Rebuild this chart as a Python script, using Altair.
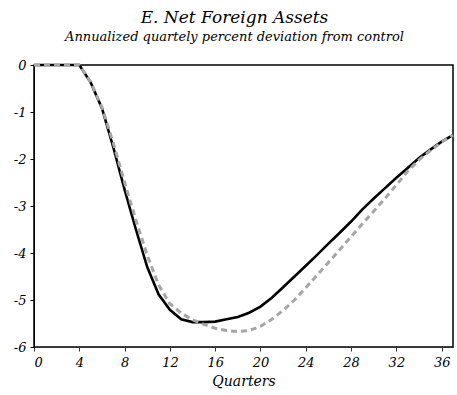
import altair as alt
import pandas as pd

# Quarters after the shock
quarters = list(range(0, 38))

# Percent deviation from control, solid black series
series_solid = [0, 0, 0, 0, 0, -0.37, -0.92, -1.75, -2.65, -3.5, -4.3, -4.88, -5.21, -5.41,
                -5.47, -5.47, -5.46, -5.41, -5.36, -5.27, -5.14, -4.95, -4.73, -4.50, -4.27,
                -4.04, -3.80, -3.57, -3.33, -3.07, -2.84, -2.62, -2.40, -2.19, -1.98, -1.80,
                -1.63, -1.49]

# Percent deviation from control, grey dashed series
series_dashed = [0, 0, 0, 0, 0, -0.36, -0.9, -1.66, -2.5, -3.3, -4.05, -4.68, -5.08, -5.28,
                 -5.42, -5.52, -5.60, -5.65, -5.67, -5.65, -5.56, -5.41, -5.22, -5.0, -4.74,
                 -4.47, -4.20, -3.93, -3.65, -3.38, -3.11, -2.84, -2.55, -2.26, -2.02, -1.82,
                 -1.64, -1.49]

x_ticks = list(range(0, 37, 4))
y_ticks = [0, -1, -2, -3, -4, -5, -6]

df = pd.DataFrame({"q": quarters, "solid": series_solid, "dashed": series_dashed})

FONT = "DejaVu Serif"
# plain hyphen-minus in tick labels
LABEL_EXPR = "'' + datum.value"

x_scale = alt.Scale(domain=[0, 37], nice=False, zero=False)
y_scale = alt.Scale(domain=[-6, 0], nice=False)

x_axis = alt.Axis(values=x_ticks, title="Quarters", grid=False, tickSize=4,
                  labelExpr=LABEL_EXPR,
                  labelFont=FONT, labelFontStyle="italic", labelFontSize=13,
                  labelColor="black", labelPadding=5,
                  titleFont=FONT, titleFontStyle="italic", titleFontSize=14,
                  titleFontWeight="normal", titleColor="black", titlePadding=5,
                  domainColor="#333333", tickColor="#333333")

y_axis = alt.Axis(values=y_ticks, title=None, grid=False, tickSize=4,
                  labelExpr=LABEL_EXPR,
                  labelFont=FONT, labelFontStyle="italic", labelFontSize=13,
                  labelColor="black", labelPadding=4,
                  domainColor="black", tickColor="black")

solid = alt.Chart(df).mark_line(color="black", strokeWidth=2.6).encode(
    x=alt.X("q:Q", scale=x_scale, axis=x_axis),
    y=alt.Y("solid:Q", scale=y_scale, axis=y_axis),
)

# same axis definitions in both layers so the shared axes merge cleanly
dashed = alt.Chart(df).mark_line(color="#a6a6a6", strokeWidth=3, strokeDash=[6, 4]).encode(
    x=alt.X("q:Q", scale=x_scale, axis=x_axis),
    y=alt.Y("dashed:Q", scale=y_scale, axis=y_axis),
)

chart = alt.layer(solid, dashed).properties(
    width=419,
    height=282,
    padding={"left": 34, "top": 65, "right": 4, "bottom": 48},
    autosize=alt.AutoSizeParams(type="none"),
    title=alt.TitleParams(
        text="E. Net Foreign Assets",
        subtitle="Annualized quartely percent deviation from control",
        font=FONT, fontStyle="italic", fontSize=17, fontWeight="normal", color="black",
        subtitleFont=FONT, subtitleFontStyle="italic", subtitleFontSize=13,
        subtitleColor="black", subtitlePadding=4,
        anchor="middle", offset=14, dx=-9,
    ),
).configure(
    background="white",
    view=alt.ViewConfig(stroke="#000000", strokeWidth=1.5),
)

chart.save("out.html", embed_options={"renderer": "svg", "actions": False})
